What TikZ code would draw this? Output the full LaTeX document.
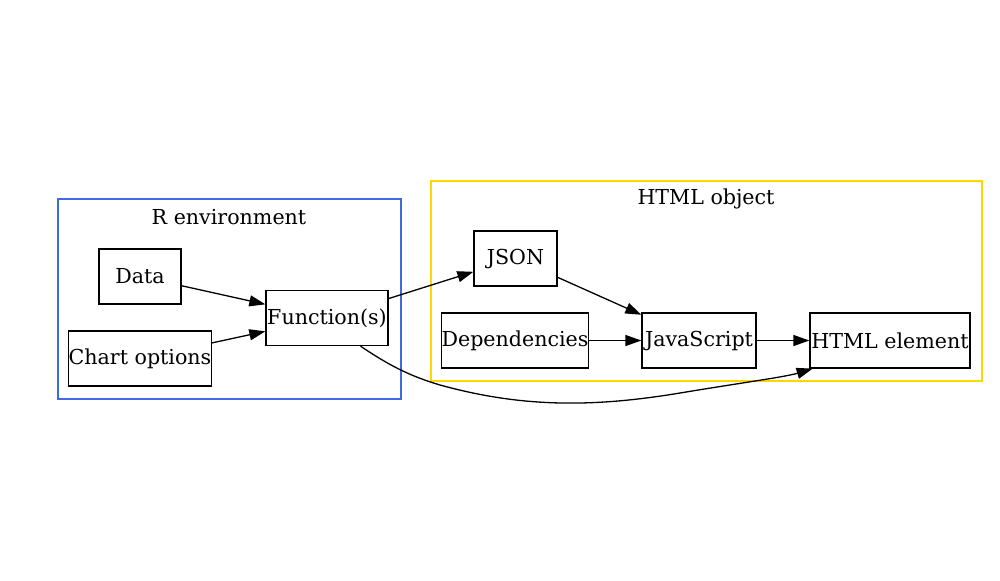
\documentclass[tikz,border=0pt]{standalone}
\usepackage{fontspec}
\setmainfont{DejaVu Serif}
\definecolor{renvblue}{RGB}{65, 105, 225}
\definecolor{htmlgold}{RGB}{255, 215, 0}
\usetikzlibrary{arrows.meta, positioning, calc}

\begin{document}
\begin{tikzpicture}[
  x=0.5pt, y=-0.5pt,
  box/.style={draw, line width=0.65pt, inner sep=0pt, minimum height=27.5pt, font=\fontsize{10.3}{12}\selectfont},
  cluster/.style={line width=0.65pt},
  link/.style={-{Triangle[length=8pt, width=5.5pt]}, line width=0.65pt},
  title/.style={font=\fontsize{10.3}{12}\selectfont}
]
  \useasboundingbox (0,0) rectangle (1000,580);
  % clusters
  \draw[cluster, draw=renvblue] (58,199) rectangle (401,399);
  \node[title] (renvlabel) at (229,217) {R environment};
  \draw[cluster, draw=htmlgold] (431,181) rectangle (982,381);
  \node[title] (htmllabel) at (706,199) {HTML object};
  % nodes
  \node[box, minimum width=41pt] (data) at (140,276.5) {Data};
  \node[box, minimum width=70pt] (opts) at (140,358.5) {Chart options};
  \node[box, minimum width=61pt] (func) at (327,318) {Function(s)};
  \node[box, minimum width=41.5pt] (json) at (515.5,258.5) {JSON};
  \node[box, minimum width=72pt] (deps) at (515,340.5) {Dependencies};
  \node[box, minimum width=57pt] (js) at (699,340.5) {JavaScript};
  \node[box, minimum width=80pt] (html) at (890,340.5) {HTML element};
  % edges
  \draw[link] (data) -- (func);
  \draw[link] (opts) -- (func);
  \draw[link] (func) -- (json);
  \draw[link] (json) -- (js);
  \draw[link] (deps) -- (js);
  \draw[link] (js) -- (html);
  \draw[link] (func.-40) .. controls (390,366) and (410,376) .. (440,385)
    .. controls (520,407) and (590,408) .. (680,393)
    .. controls (740,383) and (785,377) .. (html.-160);
\end{tikzpicture}
\end{document}
